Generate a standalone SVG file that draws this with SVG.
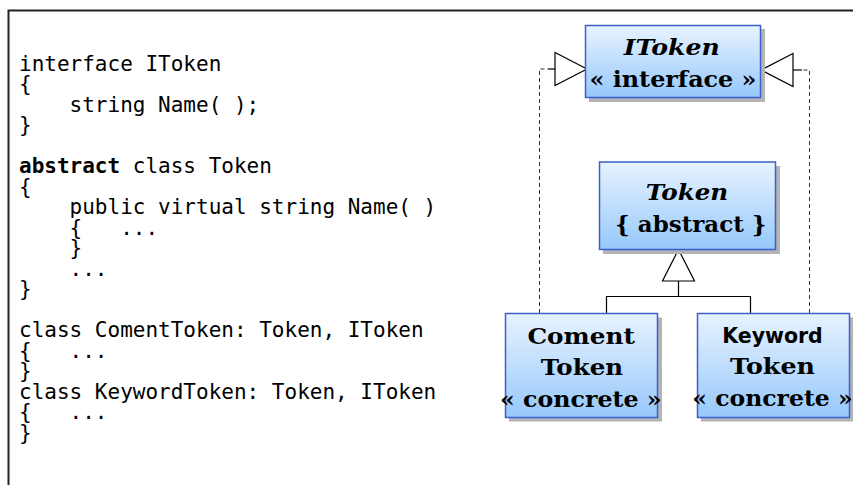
<svg xmlns="http://www.w3.org/2000/svg" width="853" height="485" viewBox="0 0 853 485">
<defs>
<linearGradient id="boxfill" x1="0" y1="0" x2="0" y2="1">
<stop offset="0" stop-color="#e8f3ff"/>
<stop offset="1" stop-color="#96c8fa"/>
</linearGradient>
<style>
.code{font-family:"DejaVu Sans Mono","Liberation Mono",monospace;font-size:21px;fill:#000;white-space:pre}
.kw{font-weight:bold}
.shadow{fill:#b4b4b4}
.box{fill:url(#boxfill);stroke:#3a5fd0;stroke-width:1.5}
.t{font-family:"DejaVu Serif","Liberation Serif",serif;font-weight:bold;font-size:23px;fill:#000;text-anchor:middle}
.it{font-style:italic}
.sans{font-family:"DejaVu Sans","Liberation Sans",sans-serif;font-size:21px}
.dash{fill:none;stroke:#333;stroke-width:1;stroke-dasharray:4,3}
.solid{fill:none;stroke:#000;stroke-width:1.2}
.head{fill:#fff;stroke:#000;stroke-width:1.2}
</style>
</defs>
<rect width="853" height="485" fill="#fff"/>
<path d="M8.5,485 V10.5 H853" fill="none" stroke="#222" stroke-width="2"/>

<g id="code">
<text class="code" x="19" y="70.5">interface IToken</text>
<text class="code" x="19" y="91">{</text>
<text class="code" x="19" y="111.5">    string Name( );</text>
<text class="code" x="19" y="132">}</text>
<text class="code" x="19" y="173"><tspan class="kw">abstract</tspan> class Token</text>
<text class="code" x="19" y="193.5">{</text>
<text class="code" x="19" y="214">    public virtual string Name( )</text>
<text class="code" x="19" y="234.5">    {   ...</text>
<text class="code" x="19" y="255">    }</text>
<text class="code" x="19" y="275.5">    ...</text>
<text class="code" x="19" y="296">}</text>
<text class="code" x="19" y="337">class ComentToken: Token, IToken</text>
<text class="code" x="19" y="357.5">{   ...</text>
<text class="code" x="19" y="378">}</text>
<text class="code" x="19" y="398.5">class KeywordToken: Token, IToken</text>
<text class="code" x="19" y="419">{   ...</text>
<text class="code" x="19" y="439.5">}</text>
</g>

<g id="connectors">
<path class="dash" d="M539.5,313 V69 H548"/>
<path class="solid" d="M548,69 H555"/>
<polygon class="head" points="555,52.5 587,69 555,85.5"/>
<path class="dash" d="M809.5,313 V70 H802"/>
<path class="solid" d="M802,70 H793"/>
<polygon class="head" points="793,53.5 761,70 793,86.5"/>
<path class="solid" d="M678.5,281 V296.5 M606.5,313 V296.5 H750.5 V313"/>
<polygon class="head" points="678.5,249.5 694.5,281 662.5,281"/>
</g>

<g id="IToken">
<rect class="shadow" x="589" y="29" width="176" height="73"/>
<rect class="box" x="585.5" y="25.5" width="175" height="72"/>
<text class="t it" x="671.7" y="55" textLength="96" lengthAdjust="spacingAndGlyphs">IToken</text>
<text class="t" x="673" y="87.3" textLength="167" lengthAdjust="spacingAndGlyphs">« interface »</text>
</g>

<g id="Token">
<rect class="shadow" x="603" y="166" width="177" height="88"/>
<rect class="box" x="599.5" y="162" width="176" height="87.5"/>
<text class="t it" x="687" y="200" textLength="82.5" lengthAdjust="spacingAndGlyphs">Token</text>
<text class="t" x="690.8" y="231.7" textLength="151.5" lengthAdjust="spacingAndGlyphs">{ abstract }</text>
</g>

<g id="ComentToken">
<rect class="shadow" x="509" y="317.5" width="153" height="104"/>
<rect class="box" x="505.5" y="313.5" width="152" height="104"/>
<text class="t" x="581.2" y="344" textLength="107.5" lengthAdjust="spacingAndGlyphs">Coment</text>
<text class="t" x="582" y="375" textLength="82.3" lengthAdjust="spacingAndGlyphs">Token</text>
<text class="t" x="580.8" y="407.3" textLength="161.5" lengthAdjust="spacingAndGlyphs">« concrete »</text>
</g>

<g id="KeywordToken">
<rect class="shadow" x="701" y="317.5" width="152" height="104"/>
<rect class="box" x="697.5" y="313.5" width="152" height="104"/>
<text class="t sans" x="772.5" y="342.7" textLength="100.4" lengthAdjust="spacingAndGlyphs">Keyword</text>
<text class="t" x="772.5" y="374" textLength="85" lengthAdjust="spacingAndGlyphs">Token</text>
<text class="t" x="772.5" y="406" textLength="160.4" lengthAdjust="spacingAndGlyphs">« concrete »</text>
</g>
</svg>
